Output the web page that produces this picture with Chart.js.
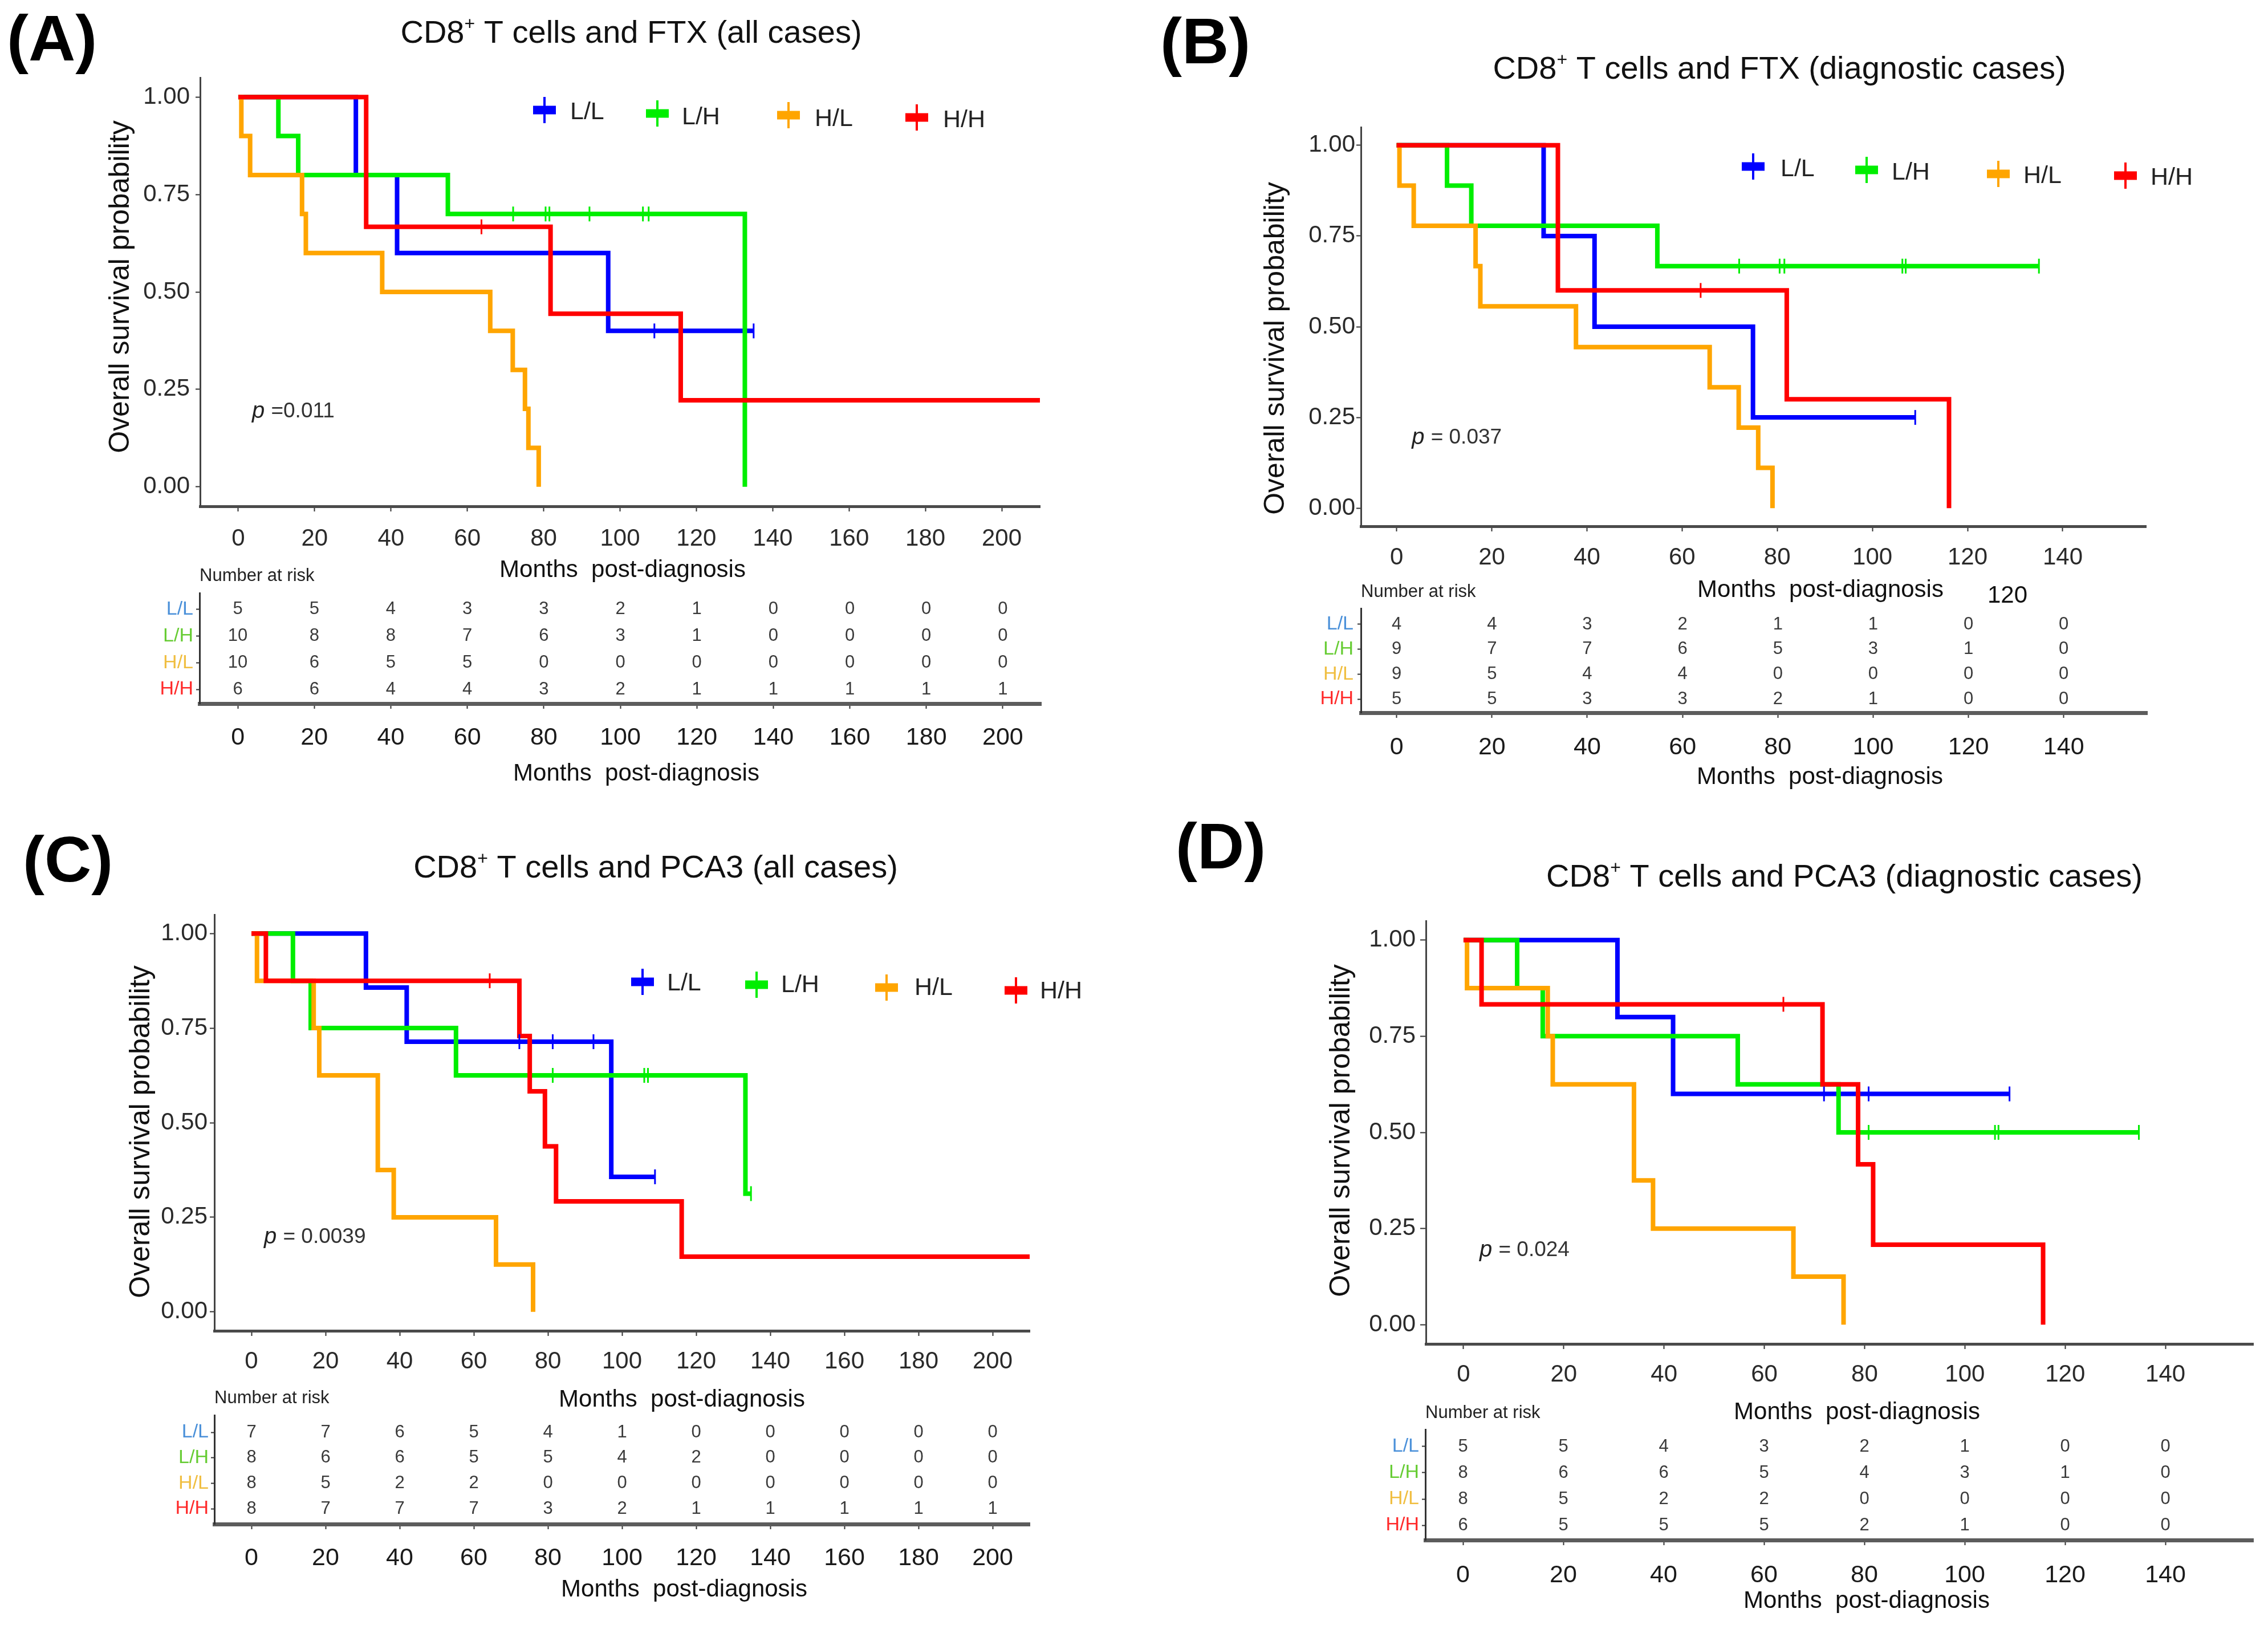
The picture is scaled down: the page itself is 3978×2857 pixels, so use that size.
<!DOCTYPE html>
<html>
<head>
<meta charset="utf-8">
<script src="https://cdn.jsdelivr.net/npm/chart.js@4.4.1/dist/chart.umd.min.js"></script>
<style>
html,body{margin:0;padding:0;background:#fff;}
body{width:3978px;height:2857px;position:relative;overflow:hidden;}
canvas{position:absolute;}
</style>
</head>
<body>
<script>
// ===================== DATA =====================
const groupLabels = ['L/L', 'L/H', 'H/L', 'H/H'];
const ticksAll  = [0, 20, 40, 60, 80, 100, 120, 140, 160, 180, 200];
const ticksDiag = [0, 20, 40, 60, 80, 100, 120, 140];
const survTicks = [0, 0.25, 0.5, 0.75, 1];

// ---- Panel A: CD8+ T cells and FTX (all cases) ----
const A_LL_time = [0, 30.8, 41.6, 96.9, 135];
const A_LL_surv = [1, 0.8, 0.6, 0.4, 0.4];
const A_LL_cens = [109, 135];
const A_LH_time = [0, 10.5, 15.7, 54.9, 132.7];
const A_LH_surv = [1, 0.9, 0.8, 0.7, 0];
const A_LH_cens = [72, 80.5, 81.5, 92, 106, 107.5];
const A_HL_time = [0, 0.8, 3.1, 16.7, 17.7, 37.7, 66, 71.9, 75.1, 76, 78.7];
const A_HL_surv = [1, 0.9, 0.8, 0.7, 0.6, 0.5, 0.4, 0.3, 0.2, 0.1, 0];
const A_HL_cens = [];
const A_HH_time = [0, 33.5, 81.8, 115.9, 215];
const A_HH_surv = [1, 0.667, 0.444, 0.222, 0.222];
const A_HH_cens = [63.7];
const A_risk_LL = [5, 5, 4, 3, 3, 2, 1, 0, 0, 0, 0];
const A_risk_LH = [10, 8, 8, 7, 6, 3, 1, 0, 0, 0, 0];
const A_risk_HL = [10, 6, 5, 5, 0, 0, 0, 0, 0, 0, 0];
const A_risk_HH = [6, 6, 4, 4, 3, 2, 1, 1, 1, 1, 1];

// ---- Panel B: CD8+ T cells and FTX (diagnostic cases) ----
const B_LL_time = [0, 30.9, 41.6, 74.9, 109];
const B_LL_surv = [1, 0.75, 0.5, 0.25, 0.25];
const B_LL_cens = [109];
const B_LH_time = [0, 10.6, 15.7, 54.8, 135];
const B_LH_surv = [1, 0.889, 0.778, 0.667, 0.667];
const B_LH_cens = [72, 80.5, 81.5, 106.3, 107, 135];
const B_HL_time = [0, 0.6, 3.6, 16.6, 17.6, 37.7, 65.8, 71.9, 76, 79];
const B_HL_surv = [1, 0.889, 0.778, 0.667, 0.556, 0.444, 0.333, 0.222, 0.111, 0];
const B_HL_cens = [];
const B_HH_time = [0, 33.9, 82, 116.1];
const B_HH_surv = [1, 0.6, 0.3, 0];
const B_HH_cens = [63.9];
const B_risk_LL = [4, 4, 3, 2, 1, 1, 0, 0];
const B_risk_LH = [9, 7, 7, 6, 5, 3, 1, 0];
const B_risk_HL = [9, 5, 4, 4, 0, 0, 0, 0];
const B_risk_HH = [5, 5, 3, 3, 2, 1, 0, 0];

// ---- Panel C: CD8+ T cells and PCA3 (all cases) ----
const C_LL_time = [0, 30.9, 41.9, 97.1, 108.9];
const C_LL_surv = [1, 0.857, 0.714, 0.357, 0.357];
const C_LL_cens = [72.3, 81.3, 92.3, 108.9];
const C_LH_time = [0, 11.2, 16, 55.2, 133.3, 134.8];
const C_LH_surv = [1, 0.875, 0.75, 0.625, 0.3125, 0.3125];
const C_LH_cens = [81.3, 106, 107, 134.8];
const C_HL_time = [0, 1.5, 16.8, 18.3, 34.1, 38.4, 66, 76];
const C_HL_surv = [1, 0.875, 0.75, 0.625, 0.375, 0.25, 0.125, 0];
const C_HL_cens = [];
const C_HH_time = [0, 3.9, 72.3, 75.1, 79.2, 82.2, 116.1, 215];
const C_HH_surv = [1, 0.875, 0.729, 0.583, 0.4375, 0.292, 0.146, 0.146];
const C_HH_cens = [64.3];
const C_risk_LL = [7, 7, 6, 5, 4, 1, 0, 0, 0, 0, 0];
const C_risk_LH = [8, 6, 6, 5, 5, 4, 2, 0, 0, 0, 0];
const C_risk_HL = [8, 5, 2, 2, 0, 0, 0, 0, 0, 0, 0];
const C_risk_HH = [8, 7, 7, 7, 3, 2, 1, 1, 1, 1, 1];

// ---- Panel D: CD8+ T cells and PCA3 (diagnostic cases) ----
const D_LL_time = [0, 30.7, 41.8, 108.9];
const D_LL_surv = [1, 0.8, 0.6, 0.6];
const D_LL_cens = [71.9, 80.8, 108.9];
const D_LH_time = [0, 10.7, 15.8, 54.7, 74.8, 134.7];
const D_LH_surv = [1, 0.875, 0.75, 0.625, 0.5, 0.5];
const D_LH_cens = [80.8, 106, 106.7, 134.7];
const D_HL_time = [0, 0.7, 16.8, 17.8, 34, 37.8, 65.8, 75.8];
const D_HL_surv = [1, 0.875, 0.75, 0.625, 0.375, 0.25, 0.125, 0];
const D_HL_cens = [];
const D_HH_time = [0, 3.6, 71.6, 78.7, 81.7, 115.6];
const D_HH_surv = [1, 0.833, 0.625, 0.417, 0.208, 0];
const D_HH_cens = [63.8];
const D_risk_LL = [5, 5, 4, 3, 2, 1, 0, 0];
const D_risk_LH = [8, 6, 6, 5, 4, 3, 1, 0];
const D_risk_HL = [8, 5, 2, 2, 0, 0, 0, 0];
const D_risk_HH = [6, 5, 5, 5, 2, 1, 0, 0];

const pValues = ['=0.011', '= 0.037', '= 0.0039', '= 0.024'];
const panelTitles = ['FTX (all cases)', 'FTX (diagnostic cases)', 'PCA3 (all cases)', 'PCA3 (diagnostic cases)'];

// ===================== STYLE =====================
const FONT = "'Liberation Sans', Arial, Helvetica, sans-serif";
const curveColors = ['#0000FF', '#00EE00', '#FFA500', '#FF0000'];
const tableColors = ['#4A90D9', '#66CC33', '#F0BE40', '#FF2A2A'];
const fnt = (size, style) => (style ? style + ' ' : '') + size + 'px ' + FONT;

function survAt(times, survs, t) {
  let s = survs[0];
  for (let i = 0; i < times.length; i++) if (times[i] <= t) s = survs[i];
  return s;
}

// ===================== PLUGINS =====================
function textPlugin(id, items, ox, oy) {
  return {
    id: id,
    afterDraw(chart) {
      const ctx = chart.ctx;
      items.forEach(item => {
        const segs = item.segs || [{ t: item.text, font: item.font }];
        ctx.save();
        ctx.translate(item.x - ox, item.y - oy);
        if (item.rot) ctx.rotate(item.rot);
        ctx.textBaseline = 'middle';
        ctx.textAlign = 'left';
        let total = 0;
        const widths = segs.map(s => { ctx.font = s.font; const w = ctx.measureText(s.t).width; total += w; return w; });
        let x = item.align === 'left' ? 0 : (item.align === 'right' ? -total : -total / 2);
        segs.forEach((s, i) => {
          ctx.font = s.font;
          ctx.fillStyle = s.color || item.color || '#111';
          ctx.fillText(s.t, x, s.dy || 0);
          x += widths[i];
        });
        ctx.restore();
      });
    }
  };
}

function legendPlugin(id, pos, ox, oy) {
  return {
    id: id,
    afterDraw(chart) {
      const ctx = chart.ctx;
      const curves = chart.data.datasets.filter(d => d.isCurve);
      curves.forEach((d, i) => {
        const p = pos[i];
        const sx = p.sx - ox, sy = p.sy - oy;
        ctx.save();
        ctx.fillStyle = d.borderColor;
        ctx.fillRect(sx - 20, sy - 7.5, 40, 15);
        ctx.fillRect(sx - 2, sy - 23, 4, 46);
        ctx.font = fnt(43);
        ctx.fillStyle = '#222';
        ctx.textAlign = 'left';
        ctx.textBaseline = 'middle';
        ctx.fillText(d.label, p.lx - ox, p.ly - oy);
        ctx.restore();
      });
    }
  };
}

function pvalPlugin(id, text, px, py) {
  return {
    id: id,
    afterDatasetsDraw(chart) {
      const ctx = chart.ctx;
      const x = chart.scales.x.getPixelForValue(px);
      const y = chart.scales.y.getPixelForValue(py);
      ctx.save();
      ctx.textBaseline = 'middle';
      ctx.textAlign = 'left';
      ctx.fillStyle = '#222';
      ctx.font = fnt(40, 'italic');
      ctx.fillText('p', x, y);
      const w = ctx.measureText('p ').width;
      ctx.font = fnt(37);
      ctx.fillStyle = '#333';
      ctx.fillText(text, x + w, y);
      ctx.restore();
    }
  };
}

function riskPlugin(id, rows, ticks) {
  return {
    id: id,
    afterDraw(chart) {
      const ctx = chart.ctx;
      ctx.save();
      ctx.font = fnt(31);
      ctx.fillStyle = '#3a3a3a';
      ctx.textAlign = 'center';
      ctx.textBaseline = 'middle';
      rows.forEach((row, i) => {
        const y = chart.scales.y.getPixelForValue(i);
        row.forEach((n, j) => {
          ctx.fillText(String(n), chart.scales.x.getPixelForValue(ticks[j]), y);
        });
      });
      ctx.restore();
    }
  };
}

// ===================== LAYOUT =====================
const panels = [
  {
    key: 'A', xMin: -10, xMax: 210, xTicks: ticksAll,
    curves: [
      { time: A_LL_time, surv: A_LL_surv, cens: A_LL_cens },
      { time: A_LH_time, surv: A_LH_surv, cens: A_LH_cens },
      { time: A_HL_time, surv: A_HL_surv, cens: A_HL_cens },
      { time: A_HH_time, surv: A_HH_surv, cens: A_HH_cens }],
    risk: [A_risk_LL, A_risk_LH, A_risk_HL, A_risk_HH],
    plot: { left: 0, top: 0, w: 1960, h: 1040, l: 351, t: 136, r: 1824, b: 888, ytl: 8, ypad: 10, xtl: 9, xpad: 23 },
    table: { left: 0, top: 980, w: 1960, h: 420, l: 350, t: 1040, r: 1826, b: 1234, ymin: -0.62, ymax: 3.535, xtl: 9, xpad: 25, ytl: 6, ypad: 5 },
    letter: { x: 12, y: 75 }, title: { x: 1107, y: 60 },
    ytitle: { x: 212, y: 503 }, xtitle: { x: 1092, y: 1000 },
    nar: { x: 350, y: 1010 }, xtitle2: { x: 1116, y: 1357 },
    pPos: [3.6, 0.193],
    legend: [
      { sx: 955, sy: 193, lx: 1000, ly: 197 }, { sx: 1153, sy: 199, lx: 1196, ly: 206 },
      { sx: 1383, sy: 202, lx: 1429, ly: 209 }, { sx: 1608, sy: 206, lx: 1654, ly: 211 }],
    extra: []
  },
  {
    key: 'B', xMin: -7.5, xMax: 157.5, xTicks: ticksDiag,
    curves: [
      { time: B_LL_time, surv: B_LL_surv, cens: B_LL_cens },
      { time: B_LH_time, surv: B_LH_surv, cens: B_LH_cens },
      { time: B_HL_time, surv: B_HL_surv, cens: B_HL_cens },
      { time: B_HH_time, surv: B_HH_surv, cens: B_HH_cens }],
    risk: [B_risk_LL, B_risk_LH, B_risk_HL, B_risk_HH],
    plot: { left: 1960, top: 0, w: 2018, h: 1060, l: 2387, t: 223, r: 3764, b: 923, ytl: 8, ypad: 2, xtl: 9, xpad: 21 },
    table: { left: 1960, top: 1000, w: 2018, h: 410, l: 2387, t: 1067, r: 3766, b: 1250, ymin: -0.641, ymax: 3.549, xtl: 9, xpad: 26, ytl: 6, ypad: 7 },
    letter: { x: 2035, y: 80 }, title: { x: 3121, y: 123 },
    ytitle: { x: 2238, y: 611 }, xtitle: { x: 3193, y: 1035 },
    nar: { x: 2387, y: 1038 }, xtitle2: { x: 3192, y: 1363 },
    pPos: [3.2, 0.194],
    legend: [
      { sx: 3075, sy: 292, lx: 3123, ly: 297 }, { sx: 3274, sy: 298, lx: 3318, ly: 303 },
      { sx: 3505, sy: 305, lx: 3549, ly: 309 }, { sx: 3728, sy: 308, lx: 3772, ly: 312 }],
    extra: [{ text: '120', x: 3521, y: 1045, size: 42 }]
  },
  {
    key: 'C', xMin: -10, xMax: 210, xTicks: ticksAll,
    curves: [
      { time: C_LL_time, surv: C_LL_surv, cens: C_LL_cens },
      { time: C_LH_time, surv: C_LH_surv, cens: C_LH_cens },
      { time: C_HL_time, surv: C_HL_surv, cens: C_HL_cens },
      { time: C_HH_time, surv: C_HH_surv, cens: C_HH_cens }],
    risk: [C_risk_LL, C_risk_LH, C_risk_HL, C_risk_HH],
    plot: { left: 0, top: 1420, w: 1960, h: 1080, l: 376, t: 1604, r: 1806, b: 2334, ytl: 8, ypad: 4, xtl: 9, xpad: 20 },
    table: { left: 0, top: 2420, w: 1960, h: 437, l: 376, t: 2482, r: 1806, b: 2673, ymin: -0.672, ymax: 3.604, xtl: 9, xpad: 25, ytl: 6, ypad: 4 },
    letter: { x: 40, y: 1515 }, title: { x: 1150, y: 1524 },
    ytitle: { x: 248, y: 1985 }, xtitle: { x: 1196, y: 2455 },
    nar: { x: 376, y: 2452 }, xtitle2: { x: 1200, y: 2788 },
    pPos: [3.4, 0.197],
    legend: [
      { sx: 1127, sy: 1722, lx: 1170, ly: 1725 }, { sx: 1327, sy: 1727, lx: 1370, ly: 1728 },
      { sx: 1555, sy: 1732, lx: 1604, ly: 1733 }, { sx: 1782, sy: 1737, lx: 1824, ly: 1739 }],
    extra: []
  },
  {
    key: 'D', xMin: -7.5, xMax: 157.5, xTicks: ticksDiag,
    curves: [
      { time: D_LL_time, surv: D_LL_surv, cens: D_LL_cens },
      { time: D_LH_time, surv: D_LH_surv, cens: D_LH_cens },
      { time: D_HL_time, surv: D_HL_surv, cens: D_HL_cens },
      { time: D_HH_time, surv: D_HH_surv, cens: D_HH_cens }],
    risk: [D_risk_LL, D_risk_LH, D_risk_HL, D_risk_HH],
    plot: { left: 1960, top: 1420, w: 2018, h: 1080, l: 2501, t: 1615, r: 3952, b: 2357, ytl: 10, ypad: 8, xtl: 9, xpad: 20 },
    table: { left: 1960, top: 2440, w: 2018, h: 417, l: 2500, t: 2507, r: 3952, b: 2701, ymin: -0.652, ymax: 3.565, xtl: 9, xpad: 27, ytl: 6, ypad: 5 },
    letter: { x: 2062, y: 1492 }, title: { x: 3235, y: 1540 },
    ytitle: { x: 2353, y: 1983 }, xtitle: { x: 3257, y: 2477 },
    nar: { x: 2500, y: 2478 }, xtitle2: { x: 3274, y: 2808 },
    pPos: [3.2, 0.194],
    legend: null,
    extra: []
  }
];

function makeCanvas(g) {
  const c = document.createElement('canvas');
  c.width = g.w; c.height = g.h;
  c.style.left = g.left + 'px'; c.style.top = g.top + 'px';
  c.style.width = g.w + 'px'; c.style.height = g.h + 'px';
  document.body.appendChild(c);
  return c;
}

function kmDatasets(curves) {
  const ds = [];
  curves.forEach((c, g) => {
    ds.push({
      label: groupLabels[g], isCurve: true,
      data: c.time.map((t, i) => ({ x: t, y: c.surv[i] })),
      borderColor: curveColors[g], backgroundColor: curveColors[g],
      borderWidth: 8, pointRadius: 0, pointHoverRadius: 0,
      stepped: true, fill: false, tension: 0,
      borderCapStyle: 'butt', borderJoinStyle: 'miter',
      order: 10 - g
    });
  });
  curves.forEach((c, g) => {
    ds.push({
      label: groupLabels[g] + ' censored',
      data: c.cens.map(t => ({ x: t, y: survAt(c.time, c.surv, t) })),
      showLine: false, pointStyle: 'line', pointRadius: 13, pointHoverRadius: 13,
      pointRotation: 90, pointBorderWidth: 3, pointBorderColor: curveColors[g],
      borderColor: curveColors[g], backgroundColor: curveColors[g],
      order: 4 - g
    });
  });
  return ds;
}

panels.forEach((P, idx) => {
  const G = P.plot;
  const cv = makeCanvas(G);
  const texts = [
    { x: P.letter.x, y: P.letter.y, text: '(' + P.key + ')', font: fnt(114, 'bold'), align: 'left', color: '#000' },
    { x: P.title.x, y: P.title.y, color: '#111', segs: [
      { t: 'CD8', font: fnt(56) }, { t: '+', font: fnt(32), dy: -17 }, { t: ' T cells and ' + panelTitles[idx], font: fnt(56) }] },
    { x: P.ytitle.x, y: P.ytitle.y, text: 'Overall survival probability', font: fnt(50), rot: -Math.PI / 2, color: '#111' },
    { x: P.xtitle.x, y: P.xtitle.y, text: 'Months  post-diagnosis', font: fnt(42), color: '#111' }
  ];
  P.extra.forEach(e => texts.push({ x: e.x, y: e.y, text: e.text, font: fnt(e.size), color: '#111' }));
  const plugins = [textPlugin('txt' + P.key, texts, G.left, G.top), pvalPlugin('pv' + P.key, pValues[idx], P.pPos[0], P.pPos[1])];
  if (P.legend) plugins.push(legendPlugin('lg' + P.key, P.legend, G.left, G.top));

  new Chart(cv, {
    type: 'line',
    data: { datasets: kmDatasets(P.curves) },
    plugins: plugins,
    options: {
      responsive: false, animation: false, devicePixelRatio: 1, events: [],
      layout: { padding: { left: 0, top: G.t - G.top, right: (G.left + G.w) - G.r, bottom: 0 } },
      plugins: { legend: { display: false }, tooltip: { enabled: false }, title: { display: false } },
      scales: {
        x: {
          type: 'linear', min: P.xMin, max: P.xMax,
          afterBuildTicks: s => { s.ticks = P.xTicks.map(v => ({ value: v })); },
          afterFit: s => { s.height = (G.top + G.h) - G.b; },
          ticks: { font: { family: FONT, size: 42 }, color: '#2a2a2a', padding: G.xpad, maxRotation: 0, autoSkip: false },
          grid: { display: true, drawOnChartArea: false, drawTicks: true, tickLength: G.xtl, tickColor: '#333', tickWidth: 2 },
          border: { display: true, color: '#4a4a4a', width: 5 }
        },
        y: {
          type: 'linear', min: -0.05, max: 1.05,
          afterBuildTicks: s => { s.ticks = survTicks.map(v => ({ value: v })); },
          afterFit: s => { s.width = G.l - G.left; },
          ticks: { font: { family: FONT, size: 42 }, color: '#2a2a2a', padding: G.ypad, callback: v => Number(v).toFixed(2) },
          grid: { display: true, drawOnChartArea: false, drawTicks: true, tickLength: G.ytl, tickColor: '#333', tickWidth: 2 },
          border: { display: true, color: '#444', width: 3 }
        }
      }
    }
  });

  // ---- risk table ----
  const T = P.table;
  const tc = makeCanvas(T);
  const ttexts = [
    { x: P.nar.x, y: P.nar.y, text: 'Number at risk', font: fnt(31), align: 'left', color: '#222' },
    { x: P.xtitle2.x, y: P.xtitle2.y, text: 'Months  post-diagnosis', font: fnt(42), color: '#111' }
  ];
  new Chart(tc, {
    type: 'line',
    data: { datasets: [{ label: 'risk', data: [] }] },
    plugins: [riskPlugin('rk' + P.key, P.risk, P.xTicks), textPlugin('tt' + P.key, ttexts, T.left, T.top)],
    options: {
      responsive: false, animation: false, devicePixelRatio: 1, events: [],
      layout: { padding: { left: 0, top: T.t - T.top, right: (T.left + T.w) - T.r, bottom: 0 } },
      plugins: { legend: { display: false }, tooltip: { enabled: false } },
      scales: {
        x: {
          type: 'linear', min: P.xMin, max: P.xMax,
          afterBuildTicks: s => { s.ticks = P.xTicks.map(v => ({ value: v })); },
          afterFit: s => { s.height = (T.top + T.h) - T.b; },
          ticks: { font: { family: FONT, size: 43 }, color: '#1a1a1a', padding: T.xpad, maxRotation: 0, autoSkip: false },
          grid: { display: true, drawOnChartArea: false, drawTicks: true, tickLength: T.xtl, tickColor: '#333', tickWidth: 2 },
          border: { display: true, color: '#5c5c5c', width: 7 }
        },
        y: {
          type: 'linear', reverse: true, min: T.ymin, max: T.ymax,
          afterBuildTicks: s => { s.ticks = groupLabels.map((g, i) => ({ value: i })); },
          afterFit: s => { s.width = T.l - T.left; },
          ticks: { font: { family: FONT, size: 34 }, color: c => tableColors[c.index], padding: T.ypad, callback: v => groupLabels[Math.round(v)] },
          grid: { display: true, drawOnChartArea: false, drawTicks: true, tickLength: T.ytl, tickColor: '#333', tickWidth: 2 },
          border: { display: true, color: '#333', width: 3 }
        }
      }
    }
  });
});
</script>
</body>
</html>
